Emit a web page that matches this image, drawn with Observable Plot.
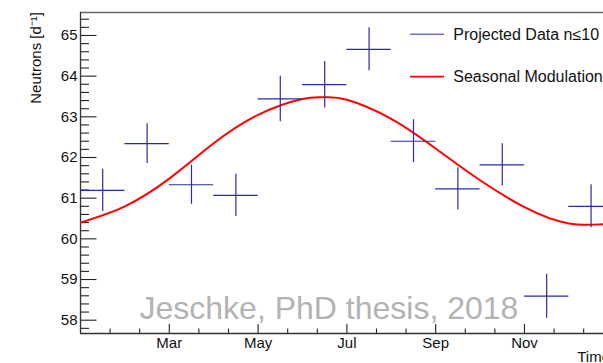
<!DOCTYPE html>
<html><head><meta charset="utf-8">
<script src="https://cdn.jsdelivr.net/npm/d3@7"></script>
<script src="https://cdn.jsdelivr.net/npm/@observablehq/plot@0.6"></script>
<style>
html,body{margin:0;padding:0;background:#fff;overflow:hidden;width:603px;height:363px}
#chart svg{overflow:hidden;display:block}
</style></head><body><div id="chart"></div>
<script>
// ---- data (x in months since Jan 1) ----
const binCenters = [0.5, 1.5, 2.5, 3.5, 4.5, 5.5, 6.5, 7.5, 8.5, 9.5, 10.5, 11.5];
const binHalfWidth = [0.5, 0.5, 0.5, 0.5, 0.5, 0.5, 0.5, 0.5, 0.5, 0.5, 0.5, 0.5];
const neutrons = [61.19, 62.34, 61.33, 61.07, 63.44, 63.79, 64.66, 62.40, 61.23, 61.82, 58.59, 60.80];
const neutronErr = [0.52, 0.49, 0.48, 0.52, 0.56, 0.57, 0.53, 0.53, 0.52, 0.52, 0.54, 0.53];
const fitMonths = [0, 1, 2, 3, 4, 5, 5.5, 6, 7, 8, 9, 10, 11, 12];
const fitValues = [60.40, 60.80, 61.48, 62.35, 63.05, 63.44, 63.48, 63.42, 62.95, 62.22, 61.44, 60.78, 60.38, 60.38];
const xTickMonths = [2, 4, 6, 8, 10];
const xTickLabels = ["Mar", "May", "Jul", "Sep", "Nov"];
const yTicks = [58, 59, 60, 61, 62, 63, 64, 65];
const legendLabels = ["Projected Data n\u226410", "Seasonal Modulation"];
const yLabel = "Neutrons [d\u207B\u00B9]";
const xLabel = "Time";
const watermark = "Jeschke, PhD thesis, 2018";

// ---- layout ----
const W = 603, H = 363, mL = 80, mR = 0, mT = 12, mB = 30;
const pw = W - mL - mR, ph = H - mT - mB;
const xDomain = [0, 11.78], yDomain = [57.673, 65.565];
const FONT = "'Liberation Sans', Arial, Helvetica, sans-serif";
const BLUE = "#2a2aa6", RED = "#ff0000";

const points = binCenters.map((m, i) => ({m, v: neutrons[i], e: neutronErr[i], x1: m - binHalfWidth[i], x2: m + binHalfWidth[i]}));
const fit = fitMonths.map((m, i) => ({m, v: fitValues[i]}));
const yMinor = d3.range(0, 40).map(i => Math.round((57.8 + 0.2 * i) * 10) / 10)
  .filter(v => v <= yDomain[1] && Math.abs(v - Math.round(v)) > 1e-6);
const xMinor = d3.range(0, 18).map(i => i * 2 / 3).filter(v => v <= xDomain[1] && Math.abs(v / 2 - Math.round(v / 2)) > 1e-6);

const chart = Plot.plot({
  width: W, height: H,
  marginLeft: mL, marginRight: mR, marginTop: mT, marginBottom: mB,
  style: {fontFamily: FONT, fontSize: "15px", background: "white", color: "#111"},
  x: {domain: xDomain, ticks: xTickMonths, tickFormat: d => xTickLabels[xTickMonths.indexOf(d)], tickSize: 0, tickPadding: 4, label: null, line: false},
  y: {domain: yDomain, ticks: yTicks, tickFormat: d => String(d), tickSize: 0, tickPadding: 3, label: null, line: false},
  marks: [
    // axis ticks drawn inward (ROOT style)
    Plot.tickY(yTicks, {y: d => d, insetRight: pw - 16.5, stroke: "#222", strokeWidth: 1.1}),
    Plot.tickY(yMinor, {y: d => d, insetRight: pw - 9, stroke: "#222", strokeWidth: 1.1}),
    Plot.tickX(xTickMonths, {x: d => d, insetTop: ph - 9, stroke: "#222", strokeWidth: 1.1}),
    Plot.tickX(xMinor, {x: d => d, insetTop: ph - 4.5, stroke: "#222", strokeWidth: 1.1}),
    // frame
    Plot.ruleY([yDomain[1]], {stroke: "#666", strokeWidth: 1.6}),
    Plot.ruleX([xDomain[0]], {stroke: "#333", strokeWidth: 1.3}),
    Plot.ruleY([yDomain[0]], {stroke: "#333", strokeWidth: 1.3}),
    // data
    Plot.line(fit, {x: "m", y: "v", curve: "natural", stroke: RED, strokeWidth: 2, clip: true}),
    Plot.ruleY(points, {x1: "x1", x2: "x2", y: "v", stroke: BLUE, strokeWidth: 1.2, clip: true}),
    Plot.ruleX(points, {x: "m", y1: d => d.v - d.e, y2: d => d.v + d.e, stroke: BLUE, strokeWidth: 1.2, clip: true})
  ]
});
document.getElementById("chart").appendChild(chart);

// ---- annotations: legend, titles, watermark ----
const svg = d3.select(chart);
const g = svg.append("g").attr("font-family", FONT).attr("text-anchor", "start");
g.append("text").text(watermark).attr("text-anchor", "start")
  .attr("x", 139.5).attr("y", 319).attr("font-size", 32).attr("fill", "#b3b3b3");
g.append("line").attr("x1", 410).attr("x2", 444).attr("y1", 34.3).attr("y2", 34.3)
  .attr("stroke", "#7272cc").attr("stroke-width", 1.5);
g.append("text").text(legendLabels[0]).attr("text-anchor", "start")
  .attr("x", 453.3).attr("y", 39.6).attr("font-size", 16).attr("fill", "#111");
g.append("line").attr("x1", 410).attr("x2", 444).attr("y1", 76.7).attr("y2", 76.7)
  .attr("stroke", RED).attr("stroke-width", 1.8);
g.append("text").text(legendLabels[1]).attr("text-anchor", "start")
  .attr("x", 453.3).attr("y", 81.8).attr("font-size", 16).attr("fill", "#111");
g.append("text").text(yLabel).attr("transform", "translate(41,12) rotate(-90)")
  .attr("text-anchor", "end").attr("font-size", 15).attr("fill", "#111");
g.append("text").text(xLabel).attr("x", 610).attr("y", 361.7)
  .attr("text-anchor", "end").attr("font-size", 15).attr("fill", "#111");
</script>
</body></html>
